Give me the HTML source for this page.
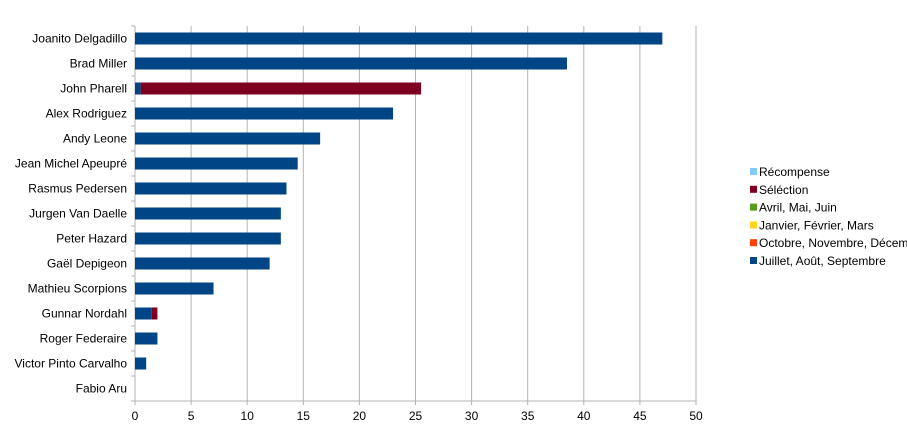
<!DOCTYPE html>
<html><head><meta charset="utf-8"><style>
body{margin:0;background:#fff;}
svg{display:block;font-family:"Liberation Sans",sans-serif;}
</style></head><body>
<svg id="chart" width="907" height="432"></svg>
<script>
const categories=["Joanito Delgadillo","Brad Miller","John Pharell","Alex Rodriguez","Andy Leone","Jean Michel Apeupré","Rasmus Pedersen","Jurgen Van Daelle","Peter Hazard","Gaël Depigeon","Mathieu Scorpions","Gunnar Nordahl","Roger Federaire","Victor Pinto Carvalho","Fabio Aru"];
const julAugSep=[47,38.5,0.5,23,16.5,14.5,13.5,13,13,12,7,1.5,2,1,0];
const selection=[0,0,25,0,0,0,0,0,0,0,0,0.5,0,0,0];
const xTicks=[0,5,10,15,20,25,30,35,40,45,50];
const legendLabels=["Récompense","Séléction","Avril, Mai, Juin","Janvier, Février, Mars","Octobre, Novembre, Décembre","Juillet, Août, Septembre"];
const legendColors=["#83caff","#7e0021","#579d1c","#ffd320","#ff420e","#004586"];
const NS="http://www.w3.org/2000/svg";
const svg=document.getElementById('chart');
const X0=135,X1=696,Y0=26,Y1=401;
const band=(Y1-Y0)/categories.length;
function x(v){return X0+(X1-X0)*v/50;}
function yc(i){return Y0+band*(i+0.5);}
function mk(t,a,p){const e=document.createElementNS(NS,t);for(const k in a)e.setAttribute(k,a[k]);(p||svg).appendChild(e);return e;}
xTicks.forEach(t=>{
  const g=mk('line',{x1:x(t),x2:x(t),y1:Y0,y2:Y1+4,stroke:'#b3b3b3','stroke-width':1});
  
  
  const l=mk('text',{x:x(t),y:Y1+19,'text-anchor':'middle','font-size':12,fill:'#000'});
  l.textContent=t;
  
  
});
const ax=mk('line',{x1:X0,x2:X0,y1:Y0,y2:Y1,stroke:'#b3b3b3','stroke-width':1});


const bx=mk('line',{x1:X0-4,x2:X1,y1:Y1,y2:Y1,stroke:'#b3b3b3','stroke-width':1});


for(let i=0;i<=categories.length;i++){
  const tk=mk('line',{x1:X0-4,x2:X0,y1:Y0+band*i,y2:Y0+band*i,stroke:'#b3b3b3'});
  
  
}
categories.forEach((c,i)=>{
  const l=mk('text',{x:X0-8,y:yc(i)+4,'text-anchor':'end','font-size':12,fill:'#000'});
  l.textContent=c;
  
  
  const h=12;
  if(julAugSep[i]>0){
    const b=mk('rect',{x:x(0),y:yc(i)-h/2,width:x(julAugSep[i])-x(0),height:h,fill:'#004586'});
    
    
  }
  if(selection[i]>0){
    const b=mk('rect',{x:x(julAugSep[i]),y:yc(i)-h/2,width:x(julAugSep[i]+selection[i])-x(julAugSep[i]),height:h,fill:'#7e0021'});
    
    
  }
});
legendLabels.forEach((t,i)=>{
  const y=172+i*17.8;
  const s=mk('rect',{x:750,y:y-4,width:7,height:7,fill:legendColors[i]});
  
  
  const l=mk('text',{x:759,y:y+4,'font-size':12,fill:'#000'});
  l.textContent=t;
  
  
});
</script>
</body></html>
